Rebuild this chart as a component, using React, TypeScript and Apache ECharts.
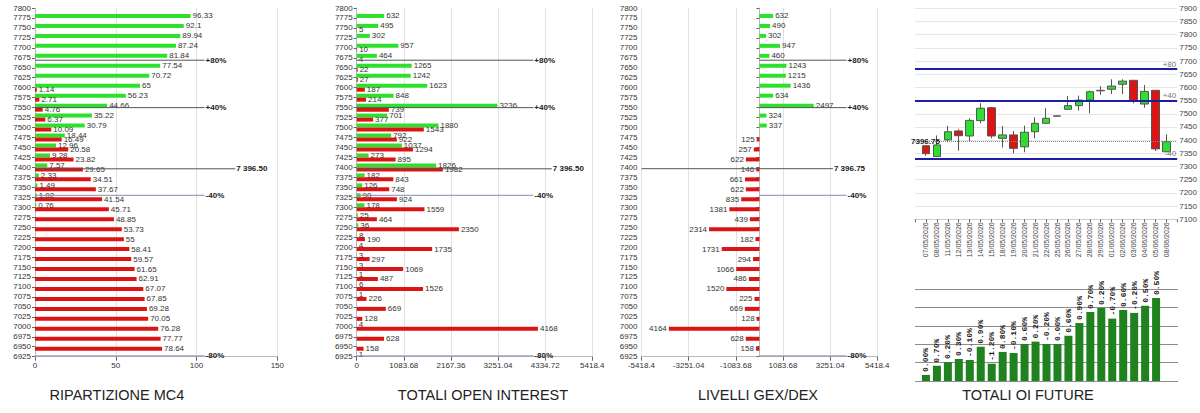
import React, { useEffect, useRef } from "react";
import * as echarts from "echarts";

// ---------- data ----------
const strikes = [
  "7800", "7775", "7750", "7725", "7700", "7675", "7650", "7625", "7600", "7575",
  "7550", "7525", "7500", "7475", "7450", "7425", "7400", "7375", "7350", "7325",
  "7300", "7275", "7250", "7225", "7200", "7175", "7150", "7125", "7100", "7075",
  "7050", "7025", "7000", "6975", "6950", "6925",
];

// RIPARTIZIONE MC4 (top -> bottom, same order as strikes)
const mc4Call = [
  null, 96.33, 92.1, 89.94, 87.24, 81.84, 77.54, 70.72, 65, 56.23,
  44.66, 35.22, 30.79, 18.44, 12.96, 9.28, 7.57, 2.33, 1.49, 1.02,
  0.76, null, null, null, null, null, null, null, null, null,
  null, null, null, null, null, null,
];
const mc4Put = [
  null, null, null, null, null, null, null, null, 1.14, 2.71,
  4.76, 6.37, 10.09, 16.49, 20.58, 23.82, 29.65, 34.51, 37.67, 41.54,
  45.71, 48.85, 53.73, 55, 58.41, 59.57, 61.65, 62.91, 67.07, 67.85,
  69.28, 70.05, 76.28, 77.77, 78.64, null,
];

// TOTALI OPEN INTEREST
const oiCall = [
  null, 632, 495, 302, 957, 464, 1265, 1242, 1623, 848,
  3236, 701, 1880, 792, 1037, 273, 1826, 182, 126, 90,
  178, 25, 36, 8, 4, 3, 3, 1, 6, 1,
  null, null, 4, null, null, 1,
];
const oiPut = [
  null, null, 5, null, 10, 4, 22, 27, 187, 214,
  739, 377, 1543, 922, 1294, 895, 1982, 843, 748, 924,
  1559, 464, 2350, 190, 1735, 297, 1069, 487, 1526, 226,
  669, 128, 4168, 628, 158, null,
];

// LIVELLI GEX/DEX
const gexDex = [
  null, 632, 490, 302, 947, 460, 1243, 1215, 1436, 634,
  2497, 324, 337, -125, -257, -622, -146, -661, -622, -835,
  -1381, -439, -2314, -182, -1731, -294, -1066, -486, -1520, -225,
  -669, -128, -4164, -628, -158, null,
];

// reference levels
const levelNames = ["+80%", "+40%", "-40%", "-80%"];
const levelValues = [7669, 7550, 7330, 6927];
const levelColors = ["#555555", "#555555", "#8a8ab0", "#8a8ab0"];
const spotMC4 = 7396.5;
const spotMC4Label = "7 396.50";
const spotGex = 7396.75;
const spotGexLabel = "7 396.75";

// Future candles
const dates = [
  "07/05/2026", "08/05/2026", "11/05/2026", "12/05/2026", "13/05/2026", "14/05/2026",
  "15/05/2026", "18/05/2026", "19/05/2026", "20/05/2026", "21/05/2026", "22/05/2026",
  "25/05/2026", "26/05/2026", "27/05/2026", "28/05/2026", "29/05/2026", "01/06/2026",
  "02/06/2026", "03/06/2026", "04/06/2026", "05/06/2026", "08/06/2026",
];
// [open, close, low, high]
const candles = [
  [7379, 7349, 7341, 7381],
  [7338, 7382, 7336, 7418],
  [7401, 7432, 7392, 7454],
  [7435, 7417, 7360, 7441],
  [7416, 7475, 7394, 7483],
  [7474, 7521, 7464, 7540],
  [7523, 7416, 7407, 7525],
  [7407, 7420, 7372, 7454],
  [7420, 7369, 7350, 7435],
  [7375, 7430, 7354, 7455],
  [7432, 7464, 7407, 7487],
  [7464, 7483, 7462, 7521],
  [7491, 7492, 7490, 7493],
  [7517, 7531, 7515, 7568],
  [7531, 7552, 7512, 7569],
  [7552, 7584, 7502, 7588],
  [7587, 7589, 7572, 7605],
  [7593, 7605, 7575, 7631],
  [7612, 7624, 7575, 7631],
  [7627, 7550, 7540, 7628],
  [7537, 7585, 7523, 7609],
  [7589, 7367, 7359, 7590],
  [7356, 7394, 7354, 7422],
];
const futLevelNames = ["+80", "+40", "-40"];
const futLevelValues = [7669, 7550, 7330];
const futSpot = 7396.75;
const futSpotLabel = "7396.75";

// TOTALI OI FUTURE
const oiFuture = [
  0.33, 0.83, 1.03, 1.2, 1.14, 1.86, 0.94, 1.58, 1.52, 2.01, 2.14,
  2.01, 2.01, 2.46, 3.15, 3.75, 3.97, 3.39, 3.86, 3.7, 4.09, 4.51,
];
const oiFutureChange = [
  "0.00%", "0.70%", "0.20%", "0.30%", "-0.10%", "0.90%", "-1.20%", "0.80%",
  "-0.10%", "0.60%", "0.20%", "-0.20%", "0.00%", "0.60%", "0.90%", "0.70%",
  "0.20%", "-0.70%", "0.60%", "-0.20%", "0.50%", "0.50%",
];

const titles = ["RIPARTIZIONE MC4", "TOTALI OPEN INTEREST", "LIVELLI GEX/DEX", "TOTALI OI FUTURE"];

// ---------- styling helpers ----------
const FONT = '"Liberation Sans", Arial, Helvetica, sans-serif';
const GREEN = "#2de02d";
const RED = "#dc1414";

function catY(gridIndex: number) {
  return {
    type: "category",
    gridIndex,
    data: strikes,
    inverse: true,
    boundaryGap: false,
    axisLine: { show: true, lineStyle: { color: "#bbbbbb" } },
    axisTick: { show: true, length: 3, lineStyle: { color: "#666" } },
    axisLabel: { interval: 0, margin: 4, fontSize: 8, color: "#333", fontFamily: FONT },
    splitLine: { show: false },
  };
}
function hiddenY(gridIndex: number) {
  return { type: "value", gridIndex, min: 6925, max: 7800, show: false };
}
function valX(gridIndex: number, min: number, max: number, interval: number) {
  return {
    type: "value",
    gridIndex,
    min,
    max,
    interval,
    axisLine: { show: true, lineStyle: { color: "#bbbbbb" } },
    axisTick: { show: true, length: 4, lineStyle: { color: "#666" } },
    axisLabel: {
      fontSize: 8,
      color: "#333",
      margin: 5,
      fontFamily: FONT,
      showMinLabel: true,
      showMaxLabel: true,
      formatter: (v: number) => String(+Number(v).toFixed(2)),
    },
    splitLine: { show: true, lineStyle: { color: "#e2e2e2" } },
  };
}
function bars(xi: number, yi: number, data: (number | null)[], color: string, pos: string) {
  return {
    type: "bar",
    xAxisIndex: xi,
    yAxisIndex: yi,
    data: data.map((v) => (v == null ? "-" : v)),
    barWidth: 4,
    barGap: "0%",
    silent: true,
    itemStyle: { color },
    label: {
      show: true,
      position: pos,
      distance: 2,
      fontSize: 8,
      color: "#333",
      fontFamily: FONT,
      formatter: (p: any) => String(Math.abs(p.value)),
    },
  };
}
function level(xi: number, yi: number, y: number, x0: number, x1: number, text: string, color: string) {
  return {
    type: "line",
    xAxisIndex: xi,
    yAxisIndex: yi,
    data: [
      [x0, y],
      [x1, y],
    ],
    symbol: "none",
    silent: true,
    z: 5,
    itemStyle: { color: "#222" },
    lineStyle: { color, width: 1 },
    endLabel: {
      show: true,
      formatter: text,
      distance: 1,
      fontSize: 8,
      fontWeight: "bold",
      color: "#222",
      textBorderWidth: 0,
      textBorderColor: "transparent",
      fontFamily: FONT,
    },
  };
}
function levelsFor(xi: number, yi: number, x0: number, xEnd: number, spot: number, spotLabel: string, spotX0: number, spotEnd: number) {
  const out: any[] = levelNames.map((n, i) => level(xi, yi, levelValues[i], x0, xEnd, n, levelColors[i]));
  out.push(level(xi, yi, spot, spotX0, spotEnd, spotLabel, "#555555"));
  return out;
}

function buildOption() {
  const futCats = ["", ...dates, ""];
  const gexPos = gexDex.map((v) => (v != null && v > 0 ? v : null));
  const gexNeg = gexDex.map((v) => (v != null && v < 0 ? v : null));

  const markData: any[] = futLevelNames.map((n, i) => ({
    yAxis: futLevelValues[i],
    lineStyle: { color: "#1c1ca6", width: 2, type: "solid" },
    label: { show: true, formatter: n, position: "insideEndTop", distance: 1, fontSize: 8, color: "#777", fontFamily: FONT },
  }));
  markData.push({
    yAxis: futSpot,
    lineStyle: { color: "#888", width: 1, type: "dotted" },
    label: {
      show: true,
      formatter: futSpotLabel,
      position: "insideStartTop",
      distance: -4,
      fontSize: 8,
      fontWeight: "bold",
      color: "#222",
      fontFamily: FONT,
    },
  });

  return {
    animation: false,
    backgroundColor: "#ffffff",
    textStyle: { fontFamily: FONT },
    grid: [
      { left: 35, top: 8, width: 242.3, height: 348.7 },
      { left: 356.7, top: 8, width: 235.6, height: 348.7 },
      { left: 641.5, top: 8, width: 235.8, height: 348.7 },
      { left: 915, top: 8.3, width: 263, height: 211 },
      { left: 915, top: 289, width: 263, height: 92 },
    ],
    xAxis: [
      valX(0, 0, 150, 50),
      valX(1, 0, 5418.4, 1083.68),
      valX(2, -5418.4, 5418.4, 2167.36),
      {
        type: "category",
        gridIndex: 3,
        data: futCats,
        boundaryGap: false,
        axisLine: { show: true, lineStyle: { color: "#cccccc" } },
        axisTick: { show: true, length: 3, interval: 0, lineStyle: { color: "#666" } },
        axisLabel: { rotate: 90, interval: 0, fontSize: 7, color: "#444", margin: 3, fontFamily: FONT },
      },
      { type: "category", gridIndex: 4, data: futCats, boundaryGap: false, show: false },
    ],
    yAxis: [
      catY(0),
      hiddenY(0),
      catY(1),
      hiddenY(1),
      catY(2),
      hiddenY(2),
      {
        type: "value",
        gridIndex: 3,
        position: "right",
        min: 7100,
        max: 7900,
        interval: 50,
        axisLine: { show: false },
        axisTick: { show: false },
        axisLabel: { fontSize: 8, color: "#444", margin: 2, fontFamily: FONT, formatter: (v: number) => String(v) },
        splitLine: { show: true, lineStyle: { color: "#e6e6e6" } },
      },
      {
        type: "value",
        gridIndex: 4,
        min: 0,
        max: 5,
        interval: 1,
        axisLine: { show: false },
        axisTick: { show: false },
        axisLabel: { show: false },
        splitLine: { show: true, lineStyle: { color: "#8c8c8c" } },
      },
    ],
    series: [
      bars(0, 0, mc4Call, GREEN, "right"),
      bars(0, 0, mc4Put, RED, "right"),
      ...levelsFor(0, 1, 0, 105, spotMC4, spotMC4Label, 0, 124),
      bars(1, 2, oiCall, GREEN, "right"),
      bars(1, 2, oiPut, RED, "right"),
      ...levelsFor(1, 3, 0, 4062, spotMC4, spotMC4Label, 0, 4487),
      bars(2, 4, gexPos, GREEN, "right"),
      bars(2, 4, gexNeg, RED, "left"),
      ...levelsFor(2, 5, 0, 4008, spotGex, spotGexLabel, -5418.4, 3379),
      {
        type: "candlestick",
        xAxisIndex: 3,
        yAxisIndex: 6,
        data: candles.map((c, i) => [i + 1, c[0], c[1], c[2], c[3]]),
        encode: { x: 0, y: [1, 2, 3, 4] },
        barWidth: 8,
        silent: true,
        itemStyle: { color: GREEN, color0: RED, borderColor: "#555", borderColor0: "#555", borderWidth: 1 },
        markLine: { symbol: ["none", "none"], silent: true, data: markData },
      },
      {
        type: "bar",
        xAxisIndex: 4,
        yAxisIndex: 7,
        data: oiFuture.map((v, i) => [i + 1, v]),
        barWidth: 8,
        silent: true,
        itemStyle: { color: "#1f821f" },
        label: {
          show: true,
          position: "top",
          rotate: 90,
          align: "left",
          verticalAlign: "middle",
          distance: 3,
          fontSize: 8,
          fontWeight: "bold",
          fontFamily: '"Liberation Mono", "DejaVu Sans Mono", monospace',
          color: "#222",
          formatter: (p: any) => oiFutureChange[p.dataIndex],
        },
      },
    ],
    graphic: titles.map((t, i) => ({
      type: "text",
      x: [117, 483, 758, 1028][i],
      y: 395,
      silent: true,
      style: {
        text: t,
        textAlign: "center",
        textVerticalAlign: "middle",
        fontSize: 14.5,
        fontFamily: FONT,
        fill: "#222",
      },
    })),
  };
}

export default function App() {
  const ref = useRef<HTMLDivElement>(null);
  useEffect(() => {
    if (!ref.current) return;
    const chart = echarts.init(ref.current, null, { renderer: "svg" });
    chart.setOption(buildOption() as any);
    return () => chart.dispose();
  }, []);
  return (
    <div
      ref={ref}
      style={{ position: "fixed", left: 0, top: 0, width: 1200, height: 413, background: "#fff" }}
    />
  );
}
